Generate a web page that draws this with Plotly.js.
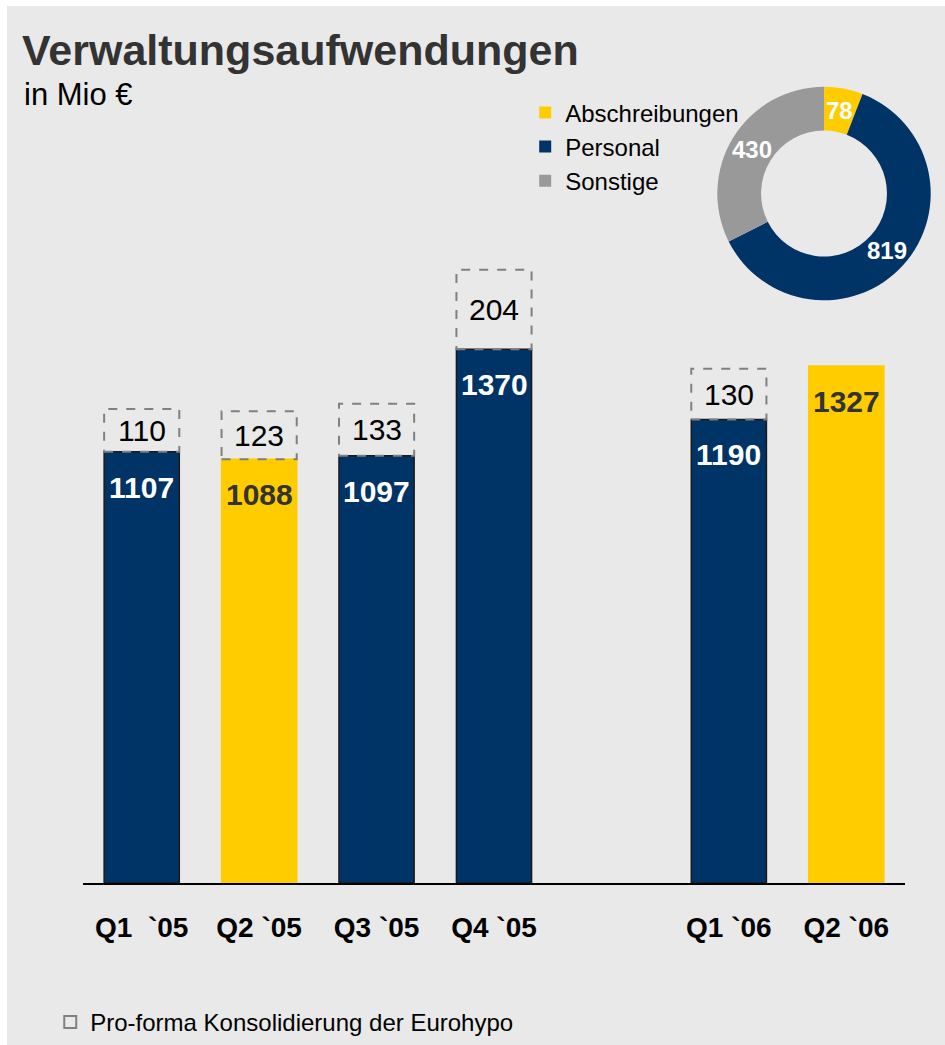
<!DOCTYPE html>
<html>
<head>
<meta charset="utf-8">
<script src="https://cdn.plot.ly/plotly-3.0.1.min.js"></script>
<style>
  html, body { margin:0; padding:0; background:#ffffff; }
  #chart { position:absolute; left:7px; top:6px; width:938px; height:1039px; }
</style>
</head>
<body>
<div id="chart"></div>
<script>
// ---- data ----
const categories = ['Q1\u00a0 `05', 'Q2 `05', 'Q3 `05', 'Q4 `05', 'Q1 `06', 'Q2 `06'];
const verwaltung = [1107, 1088, 1097, 1370, 1190, 1327];
const proForma   = [110, 123, 133, 204, 130, null];
const pieLabels  = ['Abschreibungen', 'Personal', 'Sonstige'];
const pieValues  = [78, 819, 430];
const proFormaName = 'Pro-forma Konsolidierung der Eurohypo';
const subtitleText = 'in Mio €';

// ---- styles ----
const NAVY = '#003366', YELLOW = '#ffcc00', GRAY = '#999999', BG = '#e9e9e9';
const FONT = 'Liberation Sans, Arial, sans-serif';
const barColors = ['#003366', '#ffcc00', '#003366', '#003366', '#003366', '#ffcc00'];
const labelColors = barColors.map(c => c === YELLOW ? '#333333' : '#ffffff');
const lineColors = barColors.map(c => c === YELLOW ? YELLOW : '#1a1a1a');

// plot area geometry (px)
const W = 938, H = 1039, ML = 76, MR = 0, MT = 20, MB = 160;
const PW = W - ML - MR, PH = H - MT - MB;

// axis order with an empty slot between 2005 and 2006
const axisOrder = categories.slice(0, 4).concat([' ']).concat(categories.slice(4));
const halfW = 0.32;

// donut geometry
const pieDom = { x: [0.7355, 0.9838], y: [0.680, 0.929] };
const HOLE = 0.59;

const barTrace = {
  type: 'bar',
  x: categories,
  y: verwaltung,
  width: halfW * 2,
  marker: { color: barColors, line: { color: lineColors, width: 1.5 } },
  hoverinfo: 'x+y',
  showlegend: false,
  cliponaxis: false
};

const pieTrace = {
  type: 'pie',
  labels: pieLabels,
  values: pieValues,
  sort: false,
  direction: 'clockwise',
  rotation: 0,
  hole: HOLE,
  marker: { colors: [YELLOW, NAVY, GRAY], line: { width: 0 } },
  textinfo: 'none',
  domain: pieDom,
  legend: 'legend',
  showlegend: true
};

const shapes = [];
const annotations = [];
categories.forEach((c, i) => {
  annotations.push({
    x: c, y: verwaltung[i], xref: 'x', yref: 'y',
    yanchor: 'top', yshift: -17, showarrow: false,
    text: '<b>' + verwaltung[i] + '</b>',
    font: { family: FONT, size: 30, color: labelColors[i] }
  });
  if (proForma[i] != null) {
    const idx = axisOrder.indexOf(c);
    shapes.push({
      type: 'rect', xref: 'x', yref: 'y', layer: 'above',
      x0: idx - halfW, x1: idx + halfW,
      y0: verwaltung[i], y1: verwaltung[i] + proForma[i],
      line: { color: '#808080', width: 2, dash: 'dash' },
      fillcolor: 'rgba(0,0,0,0)',
      showlegend: shapes.length === 0,
      legend: 'legend2',
      name: proFormaName
    });
    annotations.push({
      x: c, y: verwaltung[i] + proForma[i] / 2, xref: 'x', yref: 'y',
      yanchor: 'middle', showarrow: false,
      text: String(proForma[i]),
      font: { family: FONT, size: 30, color: '#000000' }
    });
  }
});

// donut value labels at the middle of each ring segment
(function () {
  const total = pieValues.reduce((a, b) => a + b, 0);
  const cx = (pieDom.x[0] + pieDom.x[1]) / 2, cy = (pieDom.y[0] + pieDom.y[1]) / 2;
  const R = Math.min((pieDom.x[1] - pieDom.x[0]) * PW, (pieDom.y[1] - pieDom.y[0]) * PH) / 2;
  const rMid = R * (1 + HOLE) / 2;
  let cum = 0;
  pieValues.forEach(v => {
    const th = (cum + v / 2) / total * 2 * Math.PI;
    cum += v;
    annotations.push({
      xref: 'paper', yref: 'paper',
      x: cx + rMid * Math.sin(th) / PW,
      y: cy + rMid * Math.cos(th) / PH,
      xanchor: 'center', yanchor: 'middle', showarrow: false,
      text: '<b>' + v + '</b>',
      font: { family: FONT, size: 24, color: '#ffffff' }
    });
  });
})();

// subtitle
annotations.push({
  xref: 'paper', yref: 'paper',
  x: (15 - ML) / PW, y: (H - MB - 89) / PH,
  xanchor: 'left', yanchor: 'middle', showarrow: false,
  text: subtitleText,
  font: { family: FONT, size: 31, color: '#000000' }
});

const layout = {
  width: W, height: H,
  paper_bgcolor: BG, plot_bgcolor: BG,
  margin: { l: ML, r: MR, t: MT, b: MB },
  font: { family: FONT, color: '#000000' },
  title: {
    text: 'Verwaltungsaufwendungen',
    font: { family: FONT, size: 43, color: '#333333', weight: 'bold' },
    xref: 'container', x: 0.016, xanchor: 'left',
    yref: 'container', y: 0.9725, yanchor: 'top'
  },
  xaxis: {
    type: 'category',
    categoryorder: 'array', categoryarray: axisOrder,
    range: [-0.5, axisOrder.length - 0.5],
    domain: [0, 822 / PW],
    showline: true, linecolor: '#000000', linewidth: 2,
    showgrid: false, zeroline: false,
    ticks: 'outside', ticklen: 18, tickcolor: 'rgba(0,0,0,0)',
    tickfont: { family: FONT, size: 28, color: '#000000', weight: 'bold' },
    fixedrange: true
  },
  yaxis: {
    range: [0, 2200],
    showgrid: false, zeroline: false, showline: false,
    showticklabels: false, ticks: '', fixedrange: true
  },
  legend: {
    x: 0.513, y: 0.925, xanchor: 'left', yanchor: 'top',
    font: { family: FONT, size: 24, color: '#000000' },
    bgcolor: 'rgba(0,0,0,0)', traceorder: 'normal'
  },
  legend2: {
    x: -0.038, y: -0.163, xanchor: 'left', yanchor: 'middle',
    font: { family: FONT, size: 24, color: '#000000' },
    bgcolor: 'rgba(0,0,0,0)'
  },
  shapes: shapes,
  annotations: annotations,
  bargap: 0.36,
  showlegend: true
};

Plotly.newPlot('chart', [barTrace, pieTrace], layout, { displayModeBar: false, staticPlot: true });
</script>
</body>
</html>
